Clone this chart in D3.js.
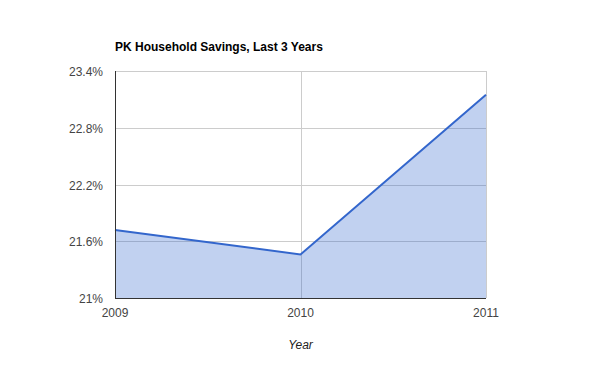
<!DOCTYPE html>
<html>
<head>
<meta charset="utf-8">
<script src="https://cdn.jsdelivr.net/npm/d3@7"></script>
<style>
  body { margin: 0; background: #fff; }
  text { font-family: Arial, "Liberation Sans", sans-serif; }
</style>
</head>
<body>
<div class="chart"></div>
<script>
var years = ["2009", "2010", "2011"];
var savings = [21.72, 21.46, 23.15];
var yTicks = [21, 21.6, 22.2, 22.8, 23.4];

var width = 600, height = 371;
var plotLeft = 115, plotRight = 486, plotTop = 71, plotBottom = 298;

var svg = d3.select(".chart").append("svg")
  .attr("width", width)
  .attr("height", height);

var x = d3.scalePoint().domain(years).range([plotLeft, plotRight]);
var y = d3.scaleLinear().domain([21, 23.4]).range([plotBottom, plotTop]);

svg.append("text")
  .attr("x", plotLeft).attr("y", 51)
  .attr("font-size", 12).attr("font-weight", "bold")
  .text("PK Household Savings, Last 3 Years");

// horizontal gridlines
svg.append("g").selectAll("line")
  .data(yTicks)
  .enter().append("line")
  .attr("x1", plotLeft).attr("x2", plotRight)
  .attr("y1", function (d) { return Math.round(y(d)) + 0.5 })
  .attr("y2", function (d) { return Math.round(y(d)) + 0.5 })
  .attr("stroke", "#ccc");

// vertical gridlines
svg.append("g").selectAll("line")
  .data(years.slice(1))
  .enter().append("line")
  .attr("x1", function (d) { return Math.round(x(d)) + 0.5 })
  .attr("x2", function (d) { return Math.round(x(d)) + 0.5 })
  .attr("y1", plotTop).attr("y2", plotBottom)
  .attr("stroke", "#ccc");

var area = d3.area()
  .x(function (d, i) { return x(years[i]) })
  .y0(plotBottom)
  .y1(function (d) { return y(d) });

var line = d3.line()
  .x(function (d, i) { return x(years[i]) })
  .y(function (d) { return y(d) });

svg.append("path")
  .datum(savings)
  .attr("d", area)
  .attr("fill", "#3366cc")
  .attr("fill-opacity", 0.3);

svg.append("path")
  .datum(savings)
  .attr("d", line)
  .attr("fill", "none")
  .attr("stroke", "#3366cc")
  .attr("stroke-width", 2);

// axis lines
svg.append("line")
  .attr("x1", plotLeft + 0.5).attr("x2", plotLeft + 0.5)
  .attr("y1", plotTop).attr("y2", plotBottom + 1)
  .attr("stroke", "#333");
svg.append("line")
  .attr("x1", plotLeft).attr("x2", plotRight)
  .attr("y1", plotBottom + 0.5).attr("y2", plotBottom + 0.5)
  .attr("stroke", "#333");

// y labels
svg.append("g").selectAll("text")
  .data(yTicks)
  .enter().append("text")
  .attr("x", plotLeft - 12)
  .attr("y", function (d) { return y(d) + 5 })
  .attr("text-anchor", "end")
  .attr("font-size", 12)
  .attr("fill", "#444")
  .text(function (d) { return d3.format(".1~f")(d) + "%" });

// x labels
svg.append("g").selectAll("text")
  .data(years)
  .enter().append("text")
  .attr("x", function (d) { return x(d) })
  .attr("y", 317)
  .attr("text-anchor", "middle")
  .attr("font-size", 12)
  .attr("fill", "#444")
  .text(function (d) { return d });

svg.append("text")
  .attr("x", (plotLeft + plotRight) / 2).attr("y", 349)
  .attr("text-anchor", "middle")
  .attr("font-size", 12)
  .attr("font-style", "italic")
  .attr("fill", "#222")
  .text("Year");
</script>
</body>
</html>
